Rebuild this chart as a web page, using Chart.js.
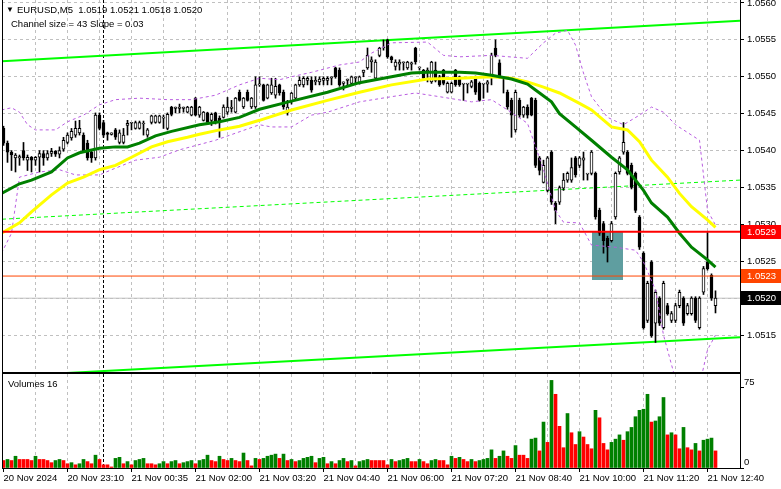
<!DOCTYPE html>
<html><head><meta charset="utf-8">
<script src="https://cdn.jsdelivr.net/npm/chart.js@4.4.1/dist/chart.umd.min.js"></script>
<style>
html,body{margin:0;padding:0;background:#fff;width:781px;height:489px;overflow:hidden}
#main{position:absolute;left:0;top:0;width:781px;height:373px}
#vol{position:absolute;left:0;top:373px;width:781px;height:116px}
</style></head><body>
<canvas id="main" width="781" height="373"></canvas>
<canvas id="vol" width="781" height="116"></canvas>
<script>
// ---------------- DATA ----------------
const timeLabels = ['20 Nov 2024','20 Nov 23:10','21 Nov 00:35','21 Nov 02:00','21 Nov 03:20','21 Nov 04:40','21 Nov 06:00','21 Nov 07:20','21 Nov 08:40','21 Nov 10:00','21 Nov 11:20','21 Nov 12:40'];
const priceTicks = [1.0515,1.0520,1.0525,1.0530,1.0535,1.0540,1.0545,1.0550,1.0555,1.0560];
const volumeTicks = [0,75];

const candleOpen = [
1.05430,1.05410,1.05398,1.05390,1.05390,1.05400,1.05387,1.05391,1.05387,1.05391,
1.05396,1.05390,1.05396,1.05399,1.05395,1.05402,1.05411,1.05417,1.05421,1.05424,
1.05421,1.05410,1.05398,1.05390,1.05448,1.05438,1.05424,1.05422,1.05428,1.05411,
1.05411,1.05434,1.05437,1.05430,1.05430,1.05436,1.05421,1.05438,1.05438,1.05438,
1.05444,1.05430,1.05459,1.05457,1.05457,1.05457,1.05452,1.05448,1.05471,1.05448,
1.05441,1.05451,1.05441,1.05451,1.05444,1.05445,1.05452,1.05457,1.05452,1.05479,
1.05459,1.05479,1.05459,1.05459,1.05489,1.05489,1.05471,1.05478,1.05475,1.05489,
1.05479,1.05451,1.05466,1.05471,1.05489,1.05489,1.05495,1.05495,1.05493,1.05493,
1.05495,1.05495,1.05498,1.05512,1.05509,1.05491,1.05495,1.05491,1.05498,1.05491,
1.05506,1.05512,1.05520,1.05498,1.05529,1.05539,1.05550,1.05527,1.05514,1.05517,
1.05519,1.05512,1.05517,1.05539,1.05512,1.05509,1.05506,1.05493,1.05509,1.05500,
1.05509,1.05479,1.05479,1.05509,1.05500,1.05490,1.05490,1.05487,1.05500,1.05491,
1.05490,1.05490,1.05500,1.05539,1.05519,1.05498,1.05479,1.05468,1.05428,1.05468,
1.05448,1.05459,1.05471,1.05468,1.05390,1.05357,1.05346,1.05398,1.05329,1.05330,
1.05349,1.05360,1.05360,1.05390,1.05380,1.05387,1.05368,1.05369,1.05369,1.05319,
1.05301,1.05281,1.05278,1.05310,1.05371,1.05398,1.05398,1.05380,1.05369,1.05310,
1.05261,1.05170,1.05249,1.05166,1.05200,1.05160,1.05190,1.05170,1.05170,1.05190,
1.05200,1.05179,1.05179,1.05200,1.05160,1.05208,1.05249,1.05231,1.05190];
const candleHigh = [
1.05433,1.05413,1.05400,1.05396,1.05394,1.05411,1.05394,1.05392,1.05392,1.05400,
1.05400,1.05400,1.05403,1.05400,1.05405,1.05418,1.05424,1.05430,1.05440,1.05441,
1.05424,1.05414,1.05400,1.05451,1.05451,1.05441,1.05425,1.05424,1.05430,1.05428,
1.05430,1.05441,1.05438,1.05440,1.05440,1.05440,1.05430,1.05448,1.05448,1.05448,
1.05448,1.05451,1.05460,1.05459,1.05463,1.05459,1.05460,1.05460,1.05472,1.05460,
1.05453,1.05452,1.05451,1.05452,1.05447,1.05462,1.05472,1.05468,1.05472,1.05482,
1.05472,1.05482,1.05472,1.05500,1.05500,1.05490,1.05490,1.05498,1.05498,1.05490,
1.05482,1.05468,1.05479,1.05490,1.05500,1.05500,1.05500,1.05500,1.05500,1.05500,
1.05500,1.05500,1.05500,1.05513,1.05512,1.05493,1.05497,1.05501,1.05500,1.05501,
1.05509,1.05539,1.05527,1.05523,1.05540,1.05550,1.05551,1.05528,1.05523,1.05523,
1.05520,1.05521,1.05520,1.05540,1.05513,1.05510,1.05512,1.05521,1.05520,1.05502,
1.05510,1.05493,1.05493,1.05510,1.05501,1.05491,1.05491,1.05495,1.05501,1.05493,
1.05491,1.05495,1.05532,1.05550,1.05523,1.05500,1.05482,1.05471,1.05482,1.05471,
1.05460,1.05462,1.05472,1.05471,1.05392,1.05387,1.05392,1.05400,1.05331,1.05352,
1.05369,1.05371,1.05390,1.05392,1.05392,1.05398,1.05369,1.05400,1.05371,1.05322,
1.05304,1.05284,1.05304,1.05371,1.05392,1.05438,1.05400,1.05383,1.05371,1.05312,
1.05263,1.05223,1.05251,1.05211,1.05202,1.05223,1.05193,1.05182,1.05193,1.05211,
1.05202,1.05193,1.05202,1.05202,1.05202,1.05243,1.05289,1.05233,1.05210];
const candleLow = [
1.05407,1.05384,1.05373,1.05371,1.05380,1.05387,1.05373,1.05371,1.05380,1.05371,
1.05380,1.05387,1.05392,1.05392,1.05390,1.05399,1.05409,1.05414,1.05418,1.05421,
1.05398,1.05387,1.05384,1.05387,1.05428,1.05418,1.05414,1.05421,1.05415,1.05409,
1.05409,1.05421,1.05428,1.05429,1.05429,1.05421,1.05418,1.05436,1.05437,1.05437,
1.05430,1.05428,1.05447,1.05451,1.05451,1.05452,1.05451,1.05447,1.05447,1.05445,
1.05440,1.05436,1.05434,1.05436,1.05418,1.05444,1.05449,1.05452,1.05451,1.05467,
1.05457,1.05467,1.05457,1.05457,1.05487,1.05467,1.05470,1.05476,1.05471,1.05475,
1.05456,1.05448,1.05463,1.05468,1.05487,1.05486,1.05489,1.05479,1.05489,1.05489,
1.05489,1.05489,1.05489,1.05498,1.05487,1.05482,1.05489,1.05490,1.05491,1.05490,
1.05500,1.05510,1.05506,1.05497,1.05527,1.05536,1.05525,1.05519,1.05509,1.05509,
1.05509,1.05510,1.05509,1.05517,1.05509,1.05495,1.05493,1.05491,1.05493,1.05487,
1.05489,1.05478,1.05478,1.05487,1.05487,1.05468,1.05478,1.05485,1.05476,1.05467,
1.05471,1.05479,1.05489,1.05527,1.05498,1.05478,1.05456,1.05418,1.05425,1.05445,
1.05445,1.05444,1.05447,1.05377,1.05367,1.05356,1.05344,1.05327,1.05301,1.05327,
1.05346,1.05357,1.05357,1.05364,1.05377,1.05360,1.05360,1.05367,1.05307,1.05285,
1.05261,1.05249,1.05276,1.05307,1.05368,1.05395,1.05367,1.05348,1.05316,1.05266,
1.05158,1.05167,1.05147,1.05140,1.05163,1.05158,1.05177,1.05167,1.05167,1.05187,
1.05163,1.05177,1.05177,1.05167,1.05158,1.05205,1.05238,1.05197,1.05180];
const candleClose = [
1.05410,1.05398,1.05394,1.05394,1.05392,1.05390,1.05391,1.05387,1.05391,1.05396,
1.05390,1.05396,1.05399,1.05395,1.05400,1.05414,1.05421,1.05426,1.05430,1.05430,
1.05400,1.05390,1.05390,1.05448,1.05430,1.05421,1.05422,1.05424,1.05418,1.05424,
1.05421,1.05437,1.05438,1.05438,1.05438,1.05437,1.05428,1.05447,1.05447,1.05447,
1.05445,1.05449,1.05449,1.05459,1.05459,1.05459,1.05459,1.05459,1.05448,1.05459,
1.05452,1.05438,1.05449,1.05438,1.05438,1.05459,1.05459,1.05459,1.05471,1.05468,
1.05471,1.05468,1.05471,1.05489,1.05490,1.05468,1.05489,1.05489,1.05487,1.05478,
1.05459,1.05459,1.05478,1.05489,1.05495,1.05498,1.05498,1.05482,1.05495,1.05497,
1.05498,1.05498,1.05500,1.05500,1.05489,1.05493,1.05497,1.05500,1.05500,1.05500,
1.05509,1.05529,1.05523,1.05520,1.05539,1.05540,1.05527,1.05523,1.05520,1.05520,
1.05520,1.05520,1.05519,1.05520,1.05513,1.05498,1.05509,1.05520,1.05495,1.05489,
1.05491,1.05491,1.05491,1.05489,1.05489,1.05491,1.05491,1.05493,1.05479,1.05468,
1.05491,1.05493,1.05529,1.05529,1.05500,1.05500,1.05459,1.05448,1.05479,1.05448,
1.05459,1.05448,1.05448,1.05380,1.05373,1.05380,1.05390,1.05330,1.05319,1.05350,
1.05360,1.05369,1.05377,1.05367,1.05390,1.05390,1.05369,1.05398,1.05310,1.05288,
1.05278,1.05269,1.05301,1.05369,1.05390,1.05411,1.05369,1.05350,1.05319,1.05269,
1.05160,1.05220,1.05149,1.05208,1.05166,1.05220,1.05179,1.05179,1.05190,1.05208,
1.05166,1.05190,1.05200,1.05170,1.05200,1.05240,1.05240,1.05200,1.05200];
const volumes = [
7,8,7,11,8,8,8,7,11,8, 8,7,5,7,8,7,4,5,3,4, 8,6,4,12,8,3,3,1,9,10,
4,6,3,7,8,9,4,4,3,4, 6,4,6,7,4,5,6,7,4,7, 8,12,7,6,11,8,7,9,7,6,
14,7,2,9,8,9,11,12,13,9, 13,7,8,6,7,9,10,11,5,9, 10,4,6,4,7,9,6,7,2,6,
7,8,7,7,7,7,3,8,6,7, 8,9,6,6,8,6,4,7,8,7, 7,3,11,9,10,8,6,8,6,7,
8,9,17,9,11,16,11,9,21,12, 12,9,27,28,16,43,24,82,69,39, 19,51,33,22,34,29,22,18,54,47,
23,17,24,27,31,26,34,38,48,54, 55,69,43,44,48,66,31,33,31,18, 38,19,17,23,16,26,27,28,16];

// indicator lines: [bar index, price]
const maGreen = [[-0.5,1.05342],[4,1.05355],[7,1.05360],[12,1.05371],[16,1.05390],[19,1.05397],[24,1.05403],[28,1.05405],[31,1.05405],[34,1.05410],[38,1.05420],[42,1.05426],[49,1.05435],[54,1.05439],[59,1.05445],[64,1.05456],[72,1.05467],[81,1.05479],[89,1.05492],[97,1.05500],[102,1.05505],[106,1.05506],[114,1.05506],[118,1.05505],[122,1.05502],[127,1.05497],[131,1.05490],[133,1.05482],[137,1.05466],[139,1.05450],[143,1.05432],[147,1.05414],[152,1.05391],[156,1.05374],[158,1.05360],[160,1.05346],[162,1.05329],[166,1.05310],[169,1.05288],[172,1.05269],[176,1.05252],[178,1.05242]];
const maYellow = [[-0.5,1.05288],[4,1.05302],[7,1.05317],[12,1.05340],[16,1.05356],[20,1.05364],[24,1.05374],[28,1.05380],[32,1.05391],[37,1.05405],[41,1.05412],[46,1.05418],[49,1.05422],[54,1.05428],[59,1.05433],[64,1.05441],[72,1.05455],[81,1.05468],[89,1.05479],[97,1.05489],[106,1.05497],[114,1.05498],[122,1.05500],[127,1.05498],[131,1.05493],[135,1.05486],[139,1.05478],[144,1.05464],[147,1.05455],[152,1.05432],[156,1.05428],[159,1.05412],[162,1.05387],[166,1.05364],[169,1.05342],[172,1.05324],[176,1.05306],[178,1.05296]];
const bandUpper = [[-0.5,1.05455],[2,1.05458],[4,1.05452],[6,1.05435],[8,1.05428],[13,1.05428],[16,1.05439],[20,1.05448],[24,1.05462],[28,1.05469],[34,1.05471],[41,1.05469],[47,1.05469],[53,1.05475],[59,1.05489],[64,1.05498],[69,1.05496],[72,1.05500],[77,1.05506],[84,1.05516],[89,1.05520],[92,1.05532],[97,1.05546],[106,1.05547],[110,1.05529],[114,1.05527],[122,1.05529],[131,1.05525],[135,1.05546],[138,1.05559],[141,1.05563],[143,1.05543],[145,1.05505],[147,1.05473],[151,1.05445],[155,1.05435],[159,1.05448],[162,1.05459],[165,1.05452],[168,1.05435],[172,1.05421],[174,1.05414],[175,1.05367],[176,1.05319],[178,1.05299]];
const bandLower = [[-0.5,1.05261],[2,1.05288],[4,1.05364],[9,1.05371],[14,1.05374],[18,1.05367],[24,1.05367],[27,1.05374],[33,1.05387],[39,1.05391],[44,1.05401],[53,1.05414],[64,1.05435],[67,1.05432],[72,1.05432],[77,1.05448],[81,1.05452],[89,1.05466],[97,1.05473],[103,1.05478],[109,1.05473],[117,1.05466],[122,1.05469],[126,1.05455],[131,1.05437],[135,1.05374],[138,1.05319],[140,1.05303],[144,1.05302],[147,1.05272],[153,1.05269],[158,1.05265],[160,1.05249],[163,1.05211],[165,1.05150],[168,1.05090],[174,1.05082],[176,1.05130],[178,1.05150]];
const channelUpper = [[-0.375,1.05521],[184.125,1.05576]];
const channelMiddle = [[-0.375,1.05307],[184.125,1.05360]];
const channelLower = [[-0.375,1.05094],[184.125,1.05147]];
const levelPrices = [1.0529,1.0523];
const bidPrice = 1.0520;
const zoneIdx = [147.1,154.9];
const zonePrice = [1.05290,1.05224];
const daySeparatorIdx = 25;
const headerText = 'EURUSD,M5  1.0519 1.0521 1.0518 1.0520';
const channelText = 'Channel size = 43 Slope = 0.03';
const volumeText = 'Volumes 16';

// ---------------- CHARTS ----------------
const FONT_FAMILY = "'Liberation Sans', Arial, sans-serif";
const FS = 9.5;
Chart.defaults.font.family = FONT_FAMILY;
Chart.defaults.font.size = FS;
Chart.defaults.color = '#000';
Chart.defaults.animation = false;

const N = candleOpen.length;
const idx = Array.from({length: N}, (_, i) => i);
const XMIN = -0.375, XMAX = 184.125;
const gridIdx = []; for (let v = 0; v <= 176; v += 8) gridIdx.push(v);
const pts = a => a.map(p => ({x: p[0], y: p[1]}));
const hline = v => [{x: XMIN, y: v}, {x: XMAX, y: v}];
const lineDS = (data, color, width, dash, order) => ({type: 'line', data, borderColor: color, borderWidth: width, borderDash: dash || [], pointRadius: 0, fill: false, tension: 0, order, borderCapStyle: 'butt'});
const TRANSP = 'rgba(0,0,0,0)';

const mainDecor = {
  id: 'mainDecor',
  beforeDatasetsDraw(chart) {
    const {ctx, scales: {x, y}, chartArea: a} = chart;
    ctx.save();
    const x0 = Math.round(x.getPixelForValue(zoneIdx[0])), x1 = Math.round(x.getPixelForValue(zoneIdx[1]));
    const y0 = Math.round(y.getPixelForValue(zonePrice[0])), y1 = Math.round(y.getPixelForValue(zonePrice[1]));
    ctx.fillStyle = '#5f9ea0';
    ctx.fillRect(x0, y0, x1 - x0, y1 - y0);
    const sx = Math.floor(x.getPixelForValue(daySeparatorIdx)) + 0.5;
    ctx.strokeStyle = '#000'; ctx.lineWidth = 1; ctx.setLineDash([3, 2]);
    ctx.beginPath(); ctx.moveTo(sx, a.top); ctx.lineTo(sx, a.bottom); ctx.stroke();
    ctx.restore();
  },
  afterDraw(chart) {
    const {ctx, scales: {y}, chartArea: a} = chart;
    ctx.save();
    ctx.strokeStyle = '#000'; ctx.lineWidth = 1; ctx.setLineDash([]);
    ctx.beginPath();
    ctx.moveTo(a.left + 0.5, a.top); ctx.lineTo(a.left + 0.5, a.bottom + 1);
    ctx.moveTo(a.left, a.bottom + 0.5); ctx.lineTo(a.right + 1, a.bottom + 0.5);
    ctx.stroke();
    ctx.textBaseline = 'middle';
    ctx.fillStyle = '#000';
    ctx.font = '8px ' + FONT_FAMILY;
    ctx.fillText('\u25BC', 6, 10);
    ctx.font = FS + 'px ' + FONT_FAMILY;
    ctx.fillText(headerText, 17, 10);
    ctx.fillText(channelText, 11, 24);
    const tags = [[levelPrices[0], '#ff0000'], [levelPrices[1], '#ff4500'], [bidPrice, '#000000']];
    tags.forEach(([v, c]) => {
      const py = Math.round(y.getPixelForValue(v));
      ctx.fillStyle = c;
      ctx.fillRect(a.right + 1, py - 7, 781 - a.right - 1, 14);
      ctx.fillStyle = '#ffffff';
      ctx.fillText(v.toFixed(4), a.right + 7, py + 0.5);
    });
    ctx.restore();
  }
};

new Chart(document.getElementById('main'), {
  type: 'bar',
  data: {datasets: [
    lineDS(pts(channelUpper), '#00ff00', 2, null, 7),
    lineDS(pts(channelMiddle), '#00ff00', 1, [4, 3], 7),
    lineDS(pts(channelLower), '#00ff00', 2, null, 7),
    lineDS(hline(bidPrice), '#c0c0c0', 1, null, 8),
    {type: 'bar', data: idx.map(i => ({x: i, y: [candleLow[i], candleHigh[i]]})), backgroundColor: '#000', borderWidth: 0, barThickness: 1, grouped: false, minBarLength: 1, order: 6},
    {type: 'bar', data: idx.map(i => ({x: i, y: [candleOpen[i], candleClose[i]]})), backgroundColor: idx.map(i => candleClose[i] >= candleOpen[i] ? '#ffffff' : '#000000'), borderColor: '#000', borderWidth: 1, borderSkipped: false, barThickness: 3, grouped: false, minBarLength: 1, order: 5},
    lineDS(pts(bandUpper), '#b85ce0', 1, [3, 3], 3),
    lineDS(pts(bandLower), '#b85ce0', 1, [3, 3], 3),
    lineDS(pts(maYellow), '#ffff00', 3, null, 2),
    lineDS(pts(maGreen), '#008000', 3, null, 1),
    lineDS(hline(levelPrices[0]), '#ff0000', 2, null, 0),
    lineDS(hline(levelPrices[1]), '#ff4500', 1, null, 0)
  ]},
  options: {
    responsive: false, devicePixelRatio: 1, animation: false, events: [],
    layout: {padding: {left: 2, top: 0, right: 0, bottom: 1}},
    plugins: {legend: {display: false}, tooltip: {enabled: false}},
    scales: {
      x: {type: 'linear', min: XMIN, max: XMAX, offset: false,
        afterBuildTicks: s => { s.ticks = gridIdx.map(v => ({value: v})); },
        afterFit: s => { s.height = 0; s.paddingLeft = 0; s.paddingRight = 0; },
        ticks: {display: false},
        grid: {offset: false, drawTicks: false, color: c => (c.tick && c.tick.value === 0) ? TRANSP : '#c0c0c0'},
        border: {display: false, dash: [3, 3]}},
      y: {type: 'linear', position: 'right', min: 1.05100, max: 1.05604,
        afterBuildTicks: s => { s.ticks = priceTicks.map(v => ({value: v})); },
        afterFit: s => { s.width = 41; s.paddingTop = 0; s.paddingBottom = 0; },
        ticks: {callback: v => v.toFixed(4), padding: 3, autoSkip: false, color: '#000'},
        grid: {color: '#c0c0c0', tickLength: 4, tickColor: '#000'},
        border: {display: true, color: '#000', width: 1, dash: [3, 3]}}
    }
  },
  plugins: [mainDecor]
});

const volColors = volumes.map((v, i) => (i > 0 && v > volumes[i - 1]) ? '#008000' : '#ff0000');
const volDecor = {
  id: 'volDecor',
  beforeDatasetsDraw(chart) {
    const {ctx, scales: {x}, chartArea: a} = chart;
    ctx.save();
    const sx = Math.floor(x.getPixelForValue(daySeparatorIdx)) + 0.5;
    ctx.strokeStyle = '#000'; ctx.lineWidth = 1; ctx.setLineDash([3, 2]);
    ctx.beginPath(); ctx.moveTo(sx, a.top); ctx.lineTo(sx, a.bottom); ctx.stroke();
    ctx.restore();
  },
  afterDraw(chart) {
    const {ctx, chartArea: a} = chart;
    ctx.save();
    ctx.strokeStyle = '#000'; ctx.lineWidth = 1;
    ctx.beginPath();
    ctx.moveTo(a.left, 0.5); ctx.lineTo(a.right + 1, 0.5);
    ctx.moveTo(a.left + 0.5, 0); ctx.lineTo(a.left + 0.5, a.bottom + 1);
    ctx.moveTo(a.left, a.bottom + 0.5); ctx.lineTo(a.right + 1, a.bottom + 0.5);
    ctx.stroke();
    ctx.font = FS + 'px ' + FONT_FAMILY;
    ctx.textBaseline = 'middle';
    ctx.fillStyle = '#000';
    ctx.fillText(volumeText, 8, 11);
    ctx.restore();
  }
};

new Chart(document.getElementById('vol'), {
  type: 'bar',
  data: {datasets: [{data: idx.map(i => ({x: i, y: volumes[i]})), backgroundColor: volColors, borderWidth: 0, barThickness: 3, grouped: false}]},
  options: {
    responsive: false, devicePixelRatio: 1, animation: false, events: [],
    layout: {padding: {left: 2, top: 1, right: 0, bottom: 0}},
    plugins: {legend: {display: false}, tooltip: {enabled: false}},
    scales: {
      x: {type: 'linear', min: XMIN, max: XMAX, offset: false,
        afterBuildTicks: s => { s.ticks = gridIdx.map(v => ({value: v})); },
        afterFit: s => { s.height = 21; s.paddingLeft = 0; s.paddingRight = 0; },
        ticks: {autoSkip: false, maxRotation: 0, minRotation: 0, align: 'start', padding: 1, color: '#000',
          callback: v => (v % 16 === 0) ? timeLabels[v / 16] : ''},
        grid: {offset: false, tickLength: 4,
          color: c => (c.tick && c.tick.value === 0) ? TRANSP : '#c0c0c0',
          tickColor: c => (c.tick && c.tick.value % 16 === 0) ? '#000' : TRANSP},
        border: {display: false, dash: [3, 3]}},
      y: {type: 'linear', position: 'right', min: 0, max: 88,
        afterBuildTicks: s => { s.ticks = volumeTicks.map(v => ({value: v})); },
        afterFit: s => { s.width = 41; s.paddingTop = 0; s.paddingBottom = 0; },
        ticks: {labelOffset: -6, padding: 0, color: '#000'},
        grid: {drawOnChartArea: false, tickLength: 4, tickColor: '#000'},
        border: {display: true, color: '#000'}}
    }
  },
  plugins: [volDecor]
});
</script>
</body></html>
